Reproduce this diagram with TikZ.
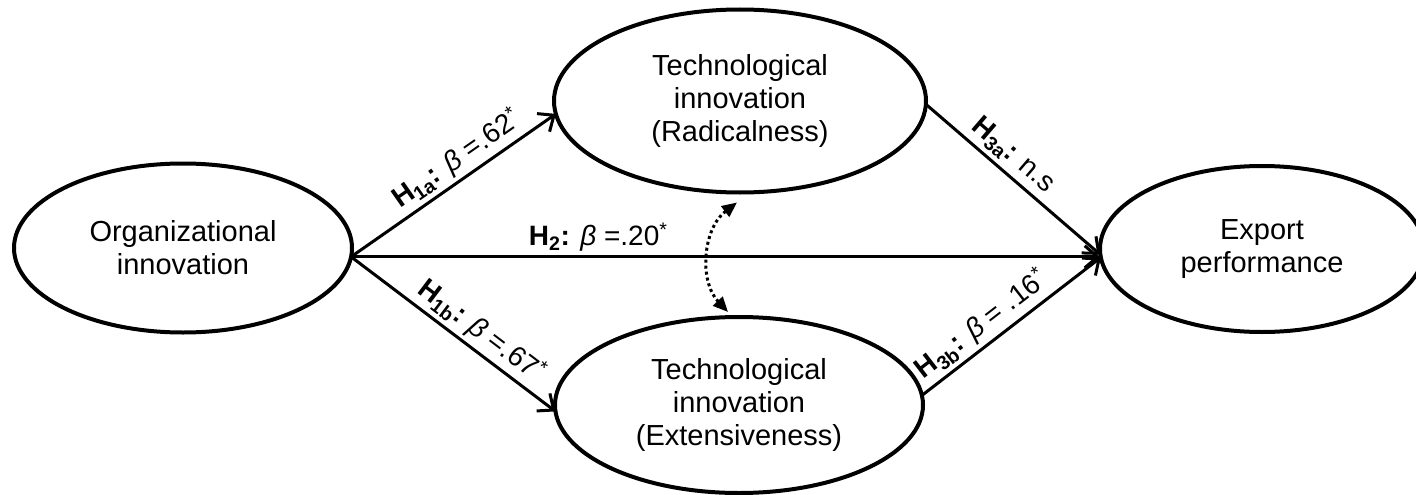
\documentclass[tikz,border=0pt]{standalone}
\usepackage{fontspec}
\setmainfont{Liberation Sans}
\usetikzlibrary{arrows.meta,shapes.geometric}
\begin{document}
\begin{tikzpicture}[x=1pt,y=-1pt,
  latent/.style={ellipse,draw,line width=4pt,inner sep=0pt,outer sep=0pt,align=center,
    font=\fontsize{29}{33}\selectfont},
  pathline/.style={line width=3pt,-{Straight Barb[length=13pt,width=22pt]}},
  lbl/.style={sloped,above,inner sep=4pt,font=\fontsize{28}{32}\selectfont},
  corr/.style={line width=3pt,dash pattern=on 3pt off 3pt,
    {Triangle[length=15pt,width=13pt]}-{Triangle[length=15pt,width=13pt]}}]
\useasboundingbox (0,0) rectangle (1416,495);
\node[latent,minimum width=338pt,minimum height=169pt] (org) at (183,248) {Organizational\\innovation};
\node[latent,minimum width=372pt,minimum height=183pt] (rad) at (740,101) {Technological\\innovation\\(Radicalness)};
\node[latent,minimum width=368pt,minimum height=176pt] (ext) at (739,405) {Technological\\innovation\\(Extensiveness)};
\node[latent,minimum width=324pt,minimum height=166pt] (exp) at (1262,249) {Export\\performance};

\draw[pathline] (org.-3) -- node[lbl,pos=0.57] {\textbf{H\textsubscript{1a}:} \textit{β} =.62\textsuperscript{*}} (rad.184);
\draw[pathline] (org.-3) -- node[lbl,pos=0.58] {\textbf{H\textsubscript{1b}:} \textit{β} =.67\textsuperscript{*}} (ext.182);
\draw[pathline] (org.-3) -- node[lbl,pos=0.33] {\textbf{H\textsubscript{2}:} \textit{β} =.20\textsuperscript{*}} (org.-3 -| exp.west);
\draw[pathline] (rad.-1) -- node[lbl,pos=0.43] {\textbf{H\textsubscript{3a}:} n.s} (exp.182);
\draw[pathline] (ext.3) -- node[lbl,pos=0.40] {\textbf{H\textsubscript{3b}:} \textit{β} = .16\textsuperscript{*}} (exp.183);

\draw[corr] ([shift={(-3,10)}]rad.south) to[bend right=48] ([shift={(-11,-5)}]ext.north);
\end{tikzpicture}
\end{document}
